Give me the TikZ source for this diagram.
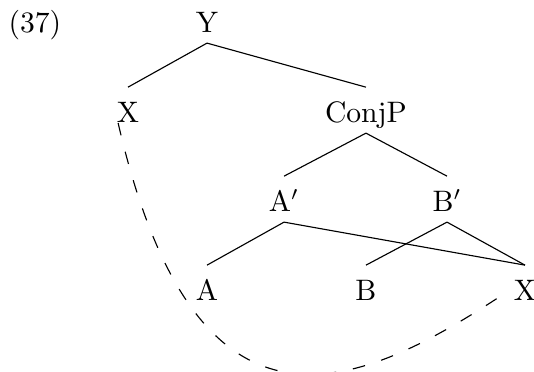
\documentclass[tikz,border=0pt]{standalone}
\usepackage{fontspec}
\begin{document}
\begin{tikzpicture}[every node/.style={font=\fontsize{10.5pt}{12.6pt}\selectfont},
  lbl/.style={anchor=base, inner sep=3.4pt, text height=9.1pt, text depth=0pt}]
\useasboundingbox (0,0) rectangle (6.655,4.636);
\node[anchor=base west, inner sep=0pt] (ex) at (0.10,4.225) {(37)};
\node[lbl] (y) at (2.58,4.225) {Y};
\node[lbl] (xl) at (1.595,3.103) {X};
\node[lbl] (conjp) at (4.561,3.103) {ConjP};
\node[lbl] (ap) at (3.54,1.994) {A$'$};
\node[lbl] (bp) at (5.571,1.994) {B$'$};
\node[lbl] (a) at (2.58,0.885) {A};
\node[lbl] (b) at (4.561,0.885) {B};
\node[lbl] (xr) at (6.543,0.885) {X};

\path[draw,-] (y.south) -- (xl.north);
\path[draw,-] (y.south) -- (conjp.north);
\path[draw,-] (conjp.south) -- (ap.north);
\path[draw,-] (conjp.south) -- (bp.north);
\path[draw,-] (ap.south) -- (a.north);
\path[draw,-] (ap.south) -- (xr.north);
\path[draw,-] (bp.south) -- (b.north);
\path[draw,-] (bp.south) -- (xr.north);

\draw[dash pattern=on 4.5pt off 6pt] ([xshift=-3.5pt]xl.base) .. controls +(0.98,-4.25) and +(-1.86,-1.23) .. ([shift={(-6.4pt,3.2pt)}]xr.base);
\end{tikzpicture}
\end{document}
